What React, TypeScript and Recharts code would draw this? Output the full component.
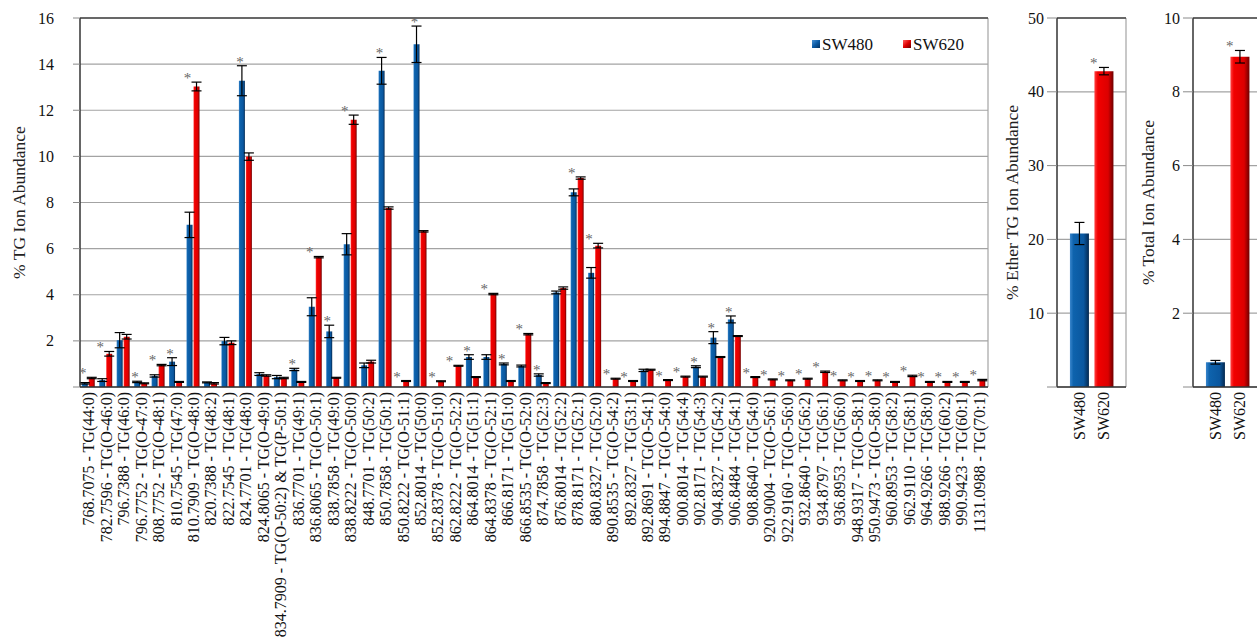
import React from "react";
import {
  ComposedChart,
  Bar,
  Cell,
  Line,
  XAxis,
  YAxis,
  CartesianGrid,
  ErrorBar,
  ReferenceLine,
} from "recharts";

const SERIF =
  '"Liberation Serif", "Times New Roman", Tinos, "DejaVu Serif", "Noto Serif", serif';

// TG species (m/z - assignment)
const lipids = [
  "768.7075 - TG(44:0)",
  "782.7596 - TG(O-46:0)",
  "796.7388 - TG(46:0)",
  "796.7752 - TG(O-47:0)",
  "808.7752 - TG(O-48:1)",
  "810.7545 - TG(47:0)",
  "810.7909 - TG(O-48:0)",
  "820.7388 - TG(48:2)",
  "822.7545 - TG(48:1)",
  "824.7701 - TG(48:0)",
  "824.8065 - TG(O-49:0)",
  "834.7909 - TG(O-50:2) & TG(P-50:1)",
  "836.7701 - TG(49:1)",
  "836.8065 - TG(O-50:1)",
  "838.7858 - TG(49:0)",
  "838.8222 - TG(O-50:0)",
  "848.7701 - TG(50:2)",
  "850.7858 - TG(50:1)",
  "850.8222 - TG(O-51:1)",
  "852.8014 - TG(50:0)",
  "852.8378 - TG(O-51:0)",
  "862.8222 - TG(O-52:2)",
  "864.8014 - TG(51:1)",
  "864.8378 - TG(O-52:1)",
  "866.8171 - TG(51:0)",
  "866.8535 - TG(O-52:0)",
  "874.7858 - TG(52:3)",
  "876.8014 - TG(52:2)",
  "878.8171 - TG(52:1)",
  "880.8327 - TG(52:0)",
  "890.8535 - TG(O-54:2)",
  "892.8327 - TG(53:1)",
  "892.8691 - TG(O-54:1)",
  "894.8847 - TG(O-54:0)",
  "900.8014 - TG(54:4)",
  "902.8171 - TG(54:3)",
  "904.8327 - TG(54:2)",
  "906.8484 - TG(54:1)",
  "908.8640 - TG(54:0)",
  "920.9004 - TG(O-56:1)",
  "922.9160 - TG(O-56:0)",
  "932.8640 - TG(56:2)",
  "934.8797 - TG(56:1)",
  "936.8953 - TG(56:0)",
  "948.9317 - TG(O-58:1)",
  "950.9473 - TG(O-58:0)",
  "960.8953 - TG(58:2)",
  "962.9110 - TG(58:1)",
  "964.9266 - TG(58:0)",
  "988.9266 - TG(60:2)",
  "990.9423 - TG(60:1)",
  "1131.0988 - TG(70:1)",
];

const sw480 = [
  0.16, 0.3, 2.03, 0.22, 0.48, 1.1, 7.03, 0.2, 1.99, 13.28, 0.56, 0.43, 0.76,
  3.48, 2.41, 6.19, 0.94, 13.71, 0, 14.86, 0, 0, 1.3, 1.3, 1.0, 0.91, 0.52,
  4.1, 8.44, 4.95, 0, 0, 0.72, 0, 0, 0.88, 2.14, 2.93, 0, 0, 0, 0, 0, 0, 0, 0,
  0, 0, 0, 0, 0, 0,
];
const sw480Err = [
  0.03, 0.06, 0.33, 0.03, 0.05, 0.17, 0.55, 0.02, 0.16, 0.65, 0.06, 0.07, 0.05,
  0.39, 0.27, 0.46, 0.1, 0.58, 0, 0.79, 0, 0, 0.1, 0.1, 0.04, 0.04, 0.05, 0.06,
  0.15, 0.23, 0, 0, 0.05, 0, 0, 0.04, 0.26, 0.15, 0, 0, 0, 0, 0, 0, 0, 0, 0,
  0, 0, 0, 0, 0,
];
const sw620 = [
  0.39, 1.44, 2.18, 0.16, 0.95, 0.22, 13.03, 0.16, 1.92, 9.99, 0.5, 0.39, 0.22,
  5.63, 0.4, 11.59, 1.1, 7.76, 0.26, 6.75, 0.25, 0.92, 0.43, 4.03, 0.26, 2.29,
  0.17, 4.29, 9.06, 6.13, 0.36, 0.26, 0.75, 0.3, 0.45, 0.45, 1.3, 2.21, 0.43,
  0.33, 0.29, 0.36, 0.66, 0.29, 0.26, 0.29, 0.22, 0.48, 0.22, 0.22, 0.22, 0.3,
];
const sw620Err = [
  0.03, 0.1, 0.1, 0.02, 0.03, 0.02, 0.19, 0.03, 0.08, 0.16, 0.03, 0.03, 0.02,
  0.03, 0.02, 0.2, 0.06, 0.05, 0.02, 0.03, 0.02, 0.02, 0.02, 0.03, 0.02, 0.03,
  0.02, 0.05, 0.05, 0.1, 0.02, 0.02, 0.02, 0.02, 0.02, 0.02, 0.02, 0.02, 0.02,
  0.02, 0.02, 0.02, 0.03, 0.02, 0.02, 0.02, 0.02, 0.03, 0.02, 0.02, 0.02, 0.03,
];
// 1 = significant difference (p < 0.05)
const significant = [
  1, 1, 0, 1, 1, 1, 1, 0, 0, 1, 0, 0, 1, 1, 1, 1, 0, 1, 1, 1, 1, 1, 1, 1, 1, 1,
  1, 0, 1, 1, 1, 1, 0, 1, 1, 1, 1, 1, 1, 1, 1, 1, 1, 1, 1, 1, 1, 1, 1, 1, 1, 1,
];

const cellLines = ["SW480", "SW620"];
const etherPct = [20.8, 42.8];
const etherErr = [1.5, 0.5];
const etherSig = [0, 1];
const totalPct = [0.67, 8.95];
const totalErr = [0.05, 0.17];
const totalSig = [0, 1];

const mainTicks = [0, 2, 4, 6, 8, 10, 12, 14, 16];
const etherTicks = [0, 10, 20, 30, 40, 50];
const totalTicks = [0, 2, 4, 6, 8, 10];

const mainData = lipids.map((name, i) => ({
  name,
  sw480: sw480[i],
  sw480Err: sw480Err[i],
  sw620: sw620[i],
  sw620Err: sw620Err[i],
  star: significant[i]
    ? Math.max(sw480[i] + sw480Err[i], sw620[i] + sw620Err[i])
    : null,
}));

const buildSummary = (vals: number[], errs: number[], sig: number[]) =>
  cellLines.map((name, i) => ({
    name,
    value: vals[i],
    err: errs[i],
    star: sig[i] ? vals[i] + errs[i] : null,
  }));

const etherData = buildSummary(etherPct, etherErr, etherSig);
const totalData = buildSummary(totalPct, totalErr, totalSig);

function Gradients({ id }: { id: string }) {
  return (
    <defs>
      <linearGradient id={`blue-${id}`} x1="0" y1="0" x2="1" y2="0">
        <stop offset="0%" stopColor="#3a86cc" />
        <stop offset="18%" stopColor="#0e63ad" />
        <stop offset="72%" stopColor="#0a579f" />
        <stop offset="100%" stopColor="#04284f" />
      </linearGradient>
      <linearGradient id={`red-${id}`} x1="0" y1="0" x2="1" y2="0">
        <stop offset="0%" stopColor="#ff4040" />
        <stop offset="18%" stopColor="#f20000" />
        <stop offset="72%" stopColor="#dc0000" />
        <stop offset="100%" stopColor="#6e0000" />
      </linearGradient>
      <linearGradient id={`blueKey-${id}`} x1="0" y1="0" x2="1" y2="1">
        <stop offset="0%" stopColor="#4a92d4" />
        <stop offset="50%" stopColor="#0b5aa5" />
        <stop offset="100%" stopColor="#05315c" />
      </linearGradient>
      <linearGradient id={`redKey-${id}`} x1="0" y1="0" x2="1" y2="1">
        <stop offset="0%" stopColor="#ff6060" />
        <stop offset="50%" stopColor="#e00000" />
        <stop offset="100%" stopColor="#6a0000" />
      </linearGradient>
    </defs>
  );
}

function RotatedTick({ x, y, payload }: any) {
  return (
    <text
      transform={`translate(${x},${y}) rotate(-90)`}
      textAnchor="end"
      dominantBaseline="central"
      fontSize={16}
      fill="#111"
      style={{ fontFamily: SERIF }}
    >
      {payload.value}
    </text>
  );
}

// value ticks; the zero tick stays unlabeled
function ValueTick({ x, y, payload }: any) {
  if (payload.value === 0) return <g />;
  return (
    <text
      x={x}
      y={y}
      textAnchor="end"
      dominantBaseline="central"
      fontSize={16}
      fill="#111"
      style={{ fontFamily: SERIF }}
    >
      {payload.value}
    </text>
  );
}

// rotated axis title; titleX is an absolute x inside the chart svg
function AxisTitle({ viewBox, text, titleX }: any) {
  const cy = viewBox.y + viewBox.height / 2;
  return (
    <text
      transform={`translate(${titleX},${cy}) rotate(-90)`}
      textAnchor="middle"
      dominantBaseline="central"
      fontSize={17.5}
      fill="#222"
      style={{ fontFamily: SERIF }}
    >
      {text}
    </text>
  );
}

// significance asterisk drawn just above the taller error bar
const starDot = (dx: number) => (props: any) => {
  const { cx, cy, index } = props;
  if (cy == null || Number.isNaN(cy)) return <g key={`s-${index}`} />;
  return (
    <text
      key={`s-${index}`}
      x={cx + dx}
      y={cy + 1}
      textAnchor="middle"
      fontSize={15}
      fill="#666"
      style={{ fontFamily: SERIF }}
    >
      *
    </text>
  );
};

const rightEdge = (props: any) => [props.offset.left + props.offset.width];

function SeriesLegend() {
  const keys = [
    { label: "SW480", fill: "url(#blueKey-main)", x: 812 },
    { label: "SW620", fill: "url(#redKey-main)", x: 903 },
  ];
  return (
    <g>
      {keys.map((k) => (
        <g key={k.label}>
          <rect x={k.x} y={40} width={8} height={8} fill={k.fill} />
          <text
            x={k.x + 10}
            y={44}
            dominantBaseline="central"
            fontSize={17}
            fill="#111"
            style={{ fontFamily: SERIF }}
          >
            {k.label}
          </text>
        </g>
      ))}
    </g>
  );
}

function MainChart() {
  return (
    <ComposedChart
      width={1000}
      height={639}
      data={mainData}
      margin={{ top: 18, right: 12, bottom: 0, left: 0 }}
      barCategoryGap="10%"
      barGap={1}
    >
      <Gradients id="main" />
      <CartesianGrid
        stroke="#a3a3a3"
        strokeWidth={1.2}
        verticalCoordinatesGenerator={rightEdge}
      />
      <XAxis
        dataKey="name"
        interval={0}
        height={252}
        tickLine={false}
        tickSize={0}
        tickMargin={5}
        tick={<RotatedTick />}
        axisLine={{ stroke: "#333", strokeWidth: 1.5 }}
      />
      <YAxis
        width={80}
        domain={[0, 16]}
        ticks={mainTicks}
        tickSize={7}
        tickMargin={19}
        tick={<ValueTick />}
        tickLine={{ stroke: "#8a8a8a" }}
        axisLine={{ stroke: "#333", strokeWidth: 1.5 }}
        label={<AxisTitle text="% TG Ion Abundance" titleX={19} />}
      />
      <ReferenceLine y={16} stroke="#444" strokeWidth={1.5} />
      <Bar dataKey="sw480" fill="url(#blue-main)" isAnimationActive={false}>
        <ErrorBar
          dataKey="sw480Err"
          direction="y"
          width={5}
          stroke="#000"
          strokeWidth={1.2}
        />
      </Bar>
      <Bar dataKey="sw620" fill="url(#red-main)" isAnimationActive={false}>
        <ErrorBar
          dataKey="sw620Err"
          direction="y"
          width={5}
          stroke="#000"
          strokeWidth={1.2}
        />
      </Bar>
      <Line
        dataKey="star"
        stroke="none"
        dot={starDot(-6)}
        activeDot={false}
        legendType="none"
        isAnimationActive={false}
      />
      <SeriesLegend />
    </ComposedChart>
  );
}

function SummaryChart({
  id,
  data,
  max,
  ticks,
  title,
  width,
  axisWidth,
  titleX,
}: any) {
  return (
    <ComposedChart
      width={width}
      height={639}
      data={data}
      margin={{ top: 18, right: width - axisWidth - 69, bottom: 0, left: 0 }}
      barCategoryGap="12%"
    >
      <Gradients id={id} />
      <CartesianGrid
        stroke="#a3a3a3"
        strokeWidth={1.2}
        verticalCoordinatesGenerator={rightEdge}
      />
      <XAxis
        dataKey="name"
        interval={0}
        height={252}
        padding={{ left: 10, right: 10 }}
        tickLine={false}
        tickSize={0}
        tickMargin={5}
        tick={<RotatedTick />}
        axisLine={{ stroke: "#333", strokeWidth: 1.5 }}
      />
      <YAxis
        width={axisWidth}
        domain={[0, max]}
        ticks={ticks}
        tickSize={10}
        tickMargin={3}
        tick={<ValueTick />}
        tickLine={{ stroke: "#8a8a8a" }}
        axisLine={{ stroke: "#333", strokeWidth: 1.5 }}
        label={<AxisTitle text={title} titleX={titleX} />}
      />
      <ReferenceLine y={max} stroke="#444" strokeWidth={1.5} />
      <Bar dataKey="value" isAnimationActive={false}>
        {data.map((_: any, i: number) => (
          <Cell
            key={i}
            fill={i === 0 ? `url(#blue-${id})` : `url(#red-${id})`}
          />
        ))}
        <ErrorBar
          dataKey="err"
          direction="y"
          width={5}
          stroke="#000"
          strokeWidth={1.2}
        />
      </Bar>
      <Line
        dataKey="star"
        stroke="none"
        dot={starDot(-10)}
        activeDot={false}
        legendType="none"
        isAnimationActive={false}
      />
    </ComposedChart>
  );
}

export default function App() {
  return (
    <div
      style={{
        position: "absolute",
        left: 0,
        top: 0,
        width: 1257,
        height: 639,
        overflow: "hidden",
        background: "#fff",
      }}
    >
      <div style={{ position: "absolute", left: 0, top: 0 }}>
        <MainChart />
      </div>
      <div style={{ position: "absolute", left: 1000, top: 0 }}>
        <SummaryChart
          id="ether"
          data={etherData}
          max={50}
          ticks={etherTicks}
          title="% Ether TG Ion Abundance"
          width={130}
          axisWidth={57}
          titleX={12}
        />
      </div>
      <div style={{ position: "absolute", left: 1130, top: 0 }}>
        <SummaryChart
          id="total"
          data={totalData}
          max={10}
          ticks={totalTicks}
          title="% Total Ion Abundance"
          width={140}
          axisWidth={63}
          titleX={18}
        />
      </div>
    </div>
  );
}
